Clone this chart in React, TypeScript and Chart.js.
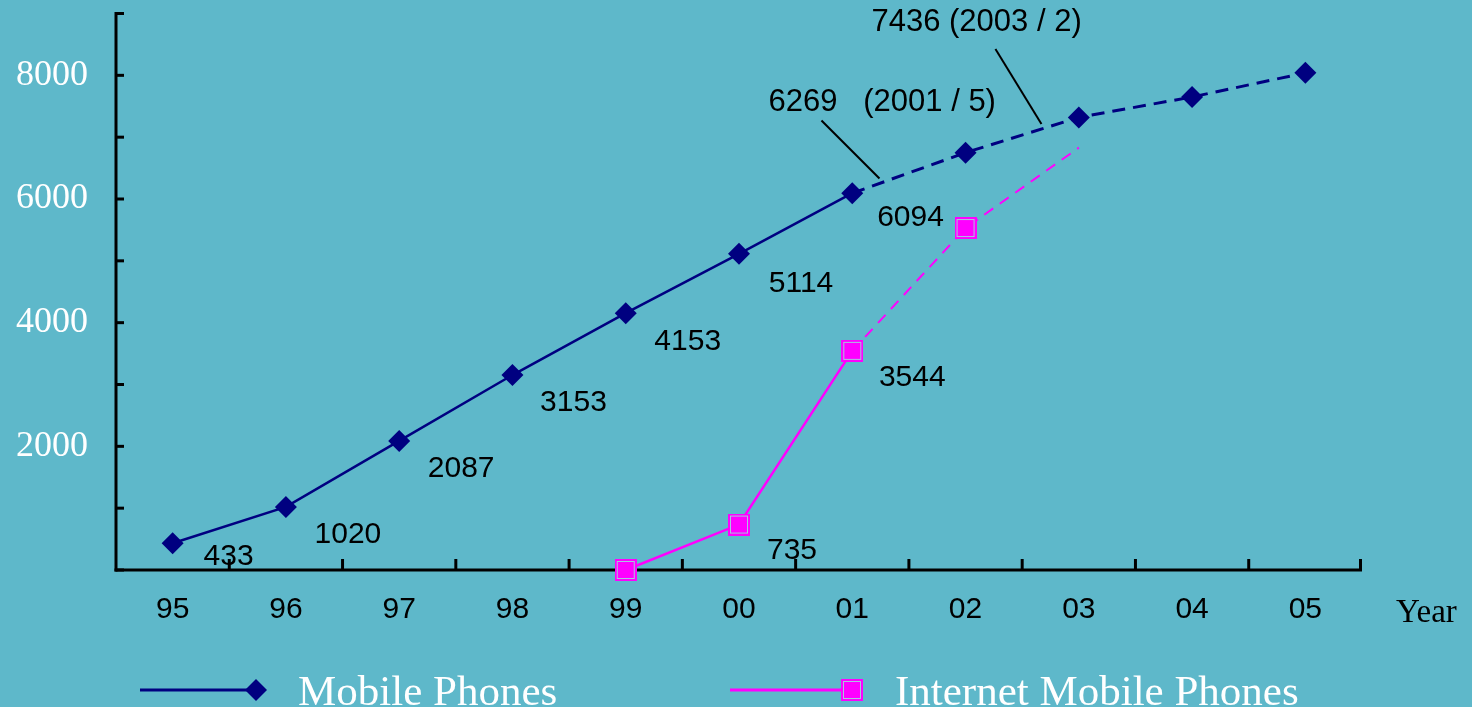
import React, { useEffect, useRef } from 'react';
import { Chart, registerables } from 'chart.js';

Chart.register(...registerables);

// ---------- data ----------
const years = ['95', '96', '97', '98', '99', '00', '01', '02', '03', '04', '05'];
const mobilePhones = [433, 1020, 2087, 3153, 4153, 5114, 6094, 6750, 7320, 7650, 8040];
const internetPhones = [null, null, null, null, 0, 735, 3544, 5530, 6830, null, null];
const mobileLabels = ['433', '1020', '2087', '3153', '4153', '5114', null, null, null, null, null];
const internetLabels = [null, null, null, null, null, '735', '3544', '6094', null, null, null];
const yMax = 9000;
const yStep = 1000;
const yLabelStep = 2000;
const annotationTexts = ['6269   (2001 / 5)', '7436 (2003 / 2)'];
const annotationSegments = [6, 7];
const annotationFractions = [0.24, 0.67];
const legendNames = ['Mobile Phones', 'Internet Mobile Phones'];
const xTitle = 'Year';
const projectedFrom = 6;

// ---------- styles ----------
const BG = '#5eb8ca';
const NAVY = '#000080';
const MAGENTA = '#ff00ff';
const SANS = "'Liberation Sans', Arial, sans-serif";
const SERIF = "'Liberation Serif', 'Times New Roman', serif";

const mobileLabelOffsets: Array<[number, number]> = [
  [56, 14], [62, 28], [62, 28], [61, 28], [62, 29], [62, 30],
];
const internetLabelOffsets: { [k: number]: [number, number] } = {
  5: [53, 26],
  6: [60, 27],
  7: [-55, -10],
};
const annotationLeader: Array<{ dx: number; dy: number; tx: number; ty: number }> = [
  { dx: -58, dy: -58, tx: -53, ty: -18 },
  { dx: -46, dy: -75, tx: -124, ty: -27 },
];

function makeSquare(size: number): HTMLCanvasElement {
  const c = document.createElement('canvas');
  c.width = size;
  c.height = size;
  const g = c.getContext('2d')!;
  g.fillStyle = MAGENTA;
  g.fillRect(0, 0, size, size);
  g.strokeStyle = '#a8c4e0';
  g.lineWidth = 1;
  g.strokeRect(2.5, 2.5, size - 5, size - 5);
  return c;
}

function drawDiamond(ctx: CanvasRenderingContext2D, x: number, y: number, r: number) {
  ctx.beginPath();
  ctx.moveTo(x, y - r);
  ctx.lineTo(x + r, y);
  ctx.lineTo(x, y + r);
  ctx.lineTo(x - r, y);
  ctx.closePath();
  ctx.fillStyle = NAVY;
  ctx.fill();
}

export default function App() {
  const ref = useRef<HTMLCanvasElement | null>(null);

  useEffect(() => {
    if (!ref.current) return;
    const square = makeSquare(22);

    const decor = {
      id: 'decor',
      beforeDatasetsDraw(chart: any) {
        const { ctx, chartArea } = chart;
        const x = chart.scales.x;
        const y = chart.scales.y;
        ctx.save();
        ctx.strokeStyle = '#000';
        ctx.lineWidth = 3;
        ctx.lineCap = 'butt';
        // y axis
        ctx.beginPath();
        ctx.moveTo(chartArea.left, y.getPixelForValue(yMax) - 1.5);
        ctx.lineTo(chartArea.left, chartArea.bottom + 1.5);
        ctx.stroke();
        for (let v = 0; v <= yMax; v += yStep) {
          const py = y.getPixelForValue(v);
          ctx.beginPath();
          ctx.moveTo(chartArea.left, py);
          ctx.lineTo(chartArea.left + 8, py);
          ctx.stroke();
        }
        // x axis
        ctx.beginPath();
        ctx.moveTo(chartArea.left - 1.5, chartArea.bottom);
        ctx.lineTo(chartArea.right, chartArea.bottom);
        ctx.stroke();
        const n = years.length;
        for (let i = 1; i <= n; i++) {
          const px = i < n
            ? (x.getPixelForValue(i - 1) + x.getPixelForValue(i)) / 2
            : chartArea.right - 1.5;
          ctx.beginPath();
          ctx.moveTo(px, chartArea.bottom);
          ctx.lineTo(px, chartArea.bottom - 11);
          ctx.stroke();
        }
        ctx.restore();
      },
      afterDatasetsDraw(chart: any) {
        const { ctx, chartArea } = chart;
        const x = chart.scales.x;
        const y = chart.scales.y;
        ctx.save();
        ctx.fillStyle = '#000';
        ctx.font = `30px ${SANS}`;
        ctx.textAlign = 'center';
        ctx.textBaseline = 'middle';
        mobileLabels.forEach((t, i) => {
          if (!t) return;
          const off = mobileLabelOffsets[i] || [62, 28];
          ctx.fillText(t, x.getPixelForValue(i) + off[0], y.getPixelForValue(mobilePhones[i]) + off[1]);
        });
        internetLabels.forEach((t, i) => {
          if (!t) return;
          const off = internetLabelOffsets[i] || [60, 27];
          ctx.fillText(t, x.getPixelForValue(i) + off[0], y.getPixelForValue(internetPhones[i] as number) + off[1]);
        });
        // annotations with leader lines
        ctx.textAlign = 'left';
        ctx.strokeStyle = '#000';
        ctx.lineWidth = 2;
        ctx.font = `31px ${SANS}`;
        annotationTexts.forEach((t, k) => {
          const s = annotationSegments[k];
          const f = annotationFractions[k];
          const x0 = x.getPixelForValue(s), y0 = y.getPixelForValue(mobilePhones[s]);
          const x1 = x.getPixelForValue(s + 1), y1 = y.getPixelForValue(mobilePhones[s + 1]);
          const ex = x0 + (x1 - x0) * f;
          const ey = y0 + (y1 - y0) * f - 5;
          const L = annotationLeader[k];
          const sx = ex + L.dx, sy = ey + L.dy;
          ctx.beginPath();
          ctx.moveTo(sx, sy);
          ctx.lineTo(ex, ey);
          ctx.stroke();
          ctx.fillText(t, sx + L.tx, sy + L.ty);
        });
        // axis title
        ctx.font = `33px ${SERIF}`;
        ctx.textBaseline = 'alphabetic';
        ctx.fillText(xTitle, chartArea.right + 34, 622);
        // legend
        const ly = 690;
        ctx.lineWidth = 3;
        ctx.strokeStyle = NAVY;
        ctx.beginPath();
        ctx.moveTo(140, ly);
        ctx.lineTo(256, ly);
        ctx.stroke();
        drawDiamond(ctx, 256, ly, 11);
        ctx.strokeStyle = MAGENTA;
        ctx.beginPath();
        ctx.moveTo(730, ly);
        ctx.lineTo(852, ly);
        ctx.stroke();
        ctx.drawImage(square, 852 - 11, ly - 11, 22, 22);
        ctx.fillStyle = '#fff';
        ctx.font = `43px ${SERIF}`;
        ctx.fillText(legendNames[0], 298, 705);
        ctx.fillText(legendNames[1], 895, 705);
        ctx.restore();
      },
    };

    const chart = new Chart(ref.current, {
      type: 'line',
      data: {
        labels: years,
        datasets: [
          {
            label: legendNames[0],
            data: mobilePhones,
            borderColor: NAVY,
            backgroundColor: NAVY,
            borderWidth: 2.5,
            pointStyle: 'rectRot',
            pointRadius: 11,
            pointBorderWidth: 0,
            pointBackgroundColor: NAVY,
            tension: 0,
            clip: false,
            segment: {
              borderDash: (c: any) => (c.p0DataIndex >= projectedFrom ? [13, 8] : undefined),
              borderWidth: (c: any) => (c.p0DataIndex >= projectedFrom ? 3 : 2.5),
            },
          } as any,
          {
            label: legendNames[1],
            data: internetPhones,
            borderColor: MAGENTA,
            backgroundColor: MAGENTA,
            borderWidth: 2.5,
            pointStyle: square,
            pointRadius: internetPhones.map((v, i) => (i === 8 ? 0 : 11)),
            tension: 0,
            clip: false,
            segment: {
              borderDash: (c: any) => (c.p0DataIndex >= projectedFrom ? [11, 8] : undefined),
              borderWidth: (c: any) => (c.p0DataIndex >= projectedFrom ? 2 : 2.5),
            },
          } as any,
        ],
      },
      options: {
        animation: false,
        responsive: false,
        devicePixelRatio: 1,
        layout: { padding: { top: 13, right: 110, bottom: 0, left: 0 } },
        plugins: { legend: { display: false }, tooltip: { enabled: false } },
        scales: {
          x: {
            type: 'category',
            offset: true,
            grid: { display: false, drawTicks: false },
            border: { display: false },
            ticks: { color: '#000', font: { family: SANS, size: 30 }, padding: 22, maxRotation: 0 },
            afterFit: (s: any) => {
              s.height = 137;
              s.paddingLeft = 0;
              s.paddingRight = 0;
            },
          },
          y: {
            min: 0,
            max: yMax,
            grid: { display: false, drawTicks: false },
            border: { display: false },
            ticks: {
              stepSize: yStep,
              color: '#fff',
              font: { family: SERIF, size: 36 },
              padding: 28,
              callback: (v: any) => (v > 0 && v < yMax && v % yLabelStep === 0 ? String(v) : ''),
            },
            afterFit: (s: any) => {
              s.width = 116;
              s.paddingTop = 0;
              s.paddingBottom = 0;
            },
          },
        },
      },
      plugins: [decor],
    });
    return () => chart.destroy();
  }, []);

  return (
    <div style={{ position: 'fixed', left: 0, top: 0, width: 1472, height: 707, background: BG, overflow: 'hidden' }}>
      <canvas ref={ref} width={1472} height={707} style={{ width: 1472, height: 707, display: 'block' }} />
    </div>
  );
}
